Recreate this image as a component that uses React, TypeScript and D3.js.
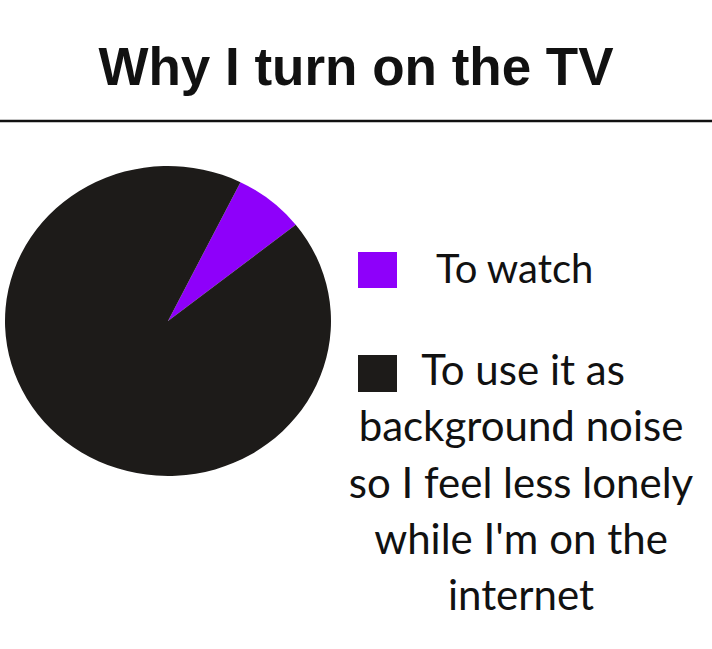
import React from "react";
import * as d3 from "d3";

const title = "Why I turn on the TV";
const categories = ["To watch", "To use it as background noise so I feel less lonely while I'm on the internet"];
const values = [7, 93];
const colors = ["#8E00FA", "#1D1B19"];
const legendLines = [
  ["To watch"],
  ["To use it as", "background noise", "so I feel less lonely", "while I'm on the", "internet"],
];

const W = 712;
const H = 649;

export default function App() {
  const cx = 168;
  const cy = 321;
  const r = 163;
  const yScale = 155 / 163;
  const start = (26.4 * Math.PI) / 180;
  const pie = d3
    .pie<number>()
    .sort(null)
    .startAngle(start)
    .endAngle(start + 2 * Math.PI)(values);
  const arc = d3.arc<d3.PieArcDatum<number>>().innerRadius(0).outerRadius(r);
  const font = "Lato, 'Open Sans', sans-serif";

  return (
    <svg
      width={W}
      height={H}
      style={{ position: "absolute", left: 0, top: 0, background: "#fff" }}
    >
      <rect x={0} y={0} width={W} height={H} fill="#fff" />
      <text
        x={356}
        y={85}
        textAnchor="middle"
        fontFamily="'Liberation Sans', Arial, sans-serif"
        fontWeight="bold"
        fontSize={53}
        fill="#111"
      >
        {title}
      </text>
      <line x1={0} x2={W} y1={121} y2={121} stroke="#111" strokeWidth={2.5} />
      <g transform={`translate(${cx},${cy}) scale(1,${yScale})`}>
        {pie.map((d, i) => (
          <path key={categories[i]} d={arc(d) || ""} fill={colors[i]} />
        ))}
      </g>
      {/* legend item 1 */}
      <rect x={358} y={252} width={39} height={36} fill={colors[0]} />
      <text x={436} y={283} fontFamily={font} fontSize={40} fill="#111">
        {legendLines[0][0]}
      </text>
      {/* legend item 2 */}
      <rect x={358} y={355} width={39} height={37} fill={colors[1]} />
      {legendLines[1].map((line, i) => (
        <text
          key={line}
          x={i === 0 ? 523 : 521}
          y={385 + i * 56.3}
          textAnchor="middle"
          fontFamily={font}
          fontSize={42}
          fill="#111"
        >
          {line}
        </text>
      ))}
    </svg>
  );
}
